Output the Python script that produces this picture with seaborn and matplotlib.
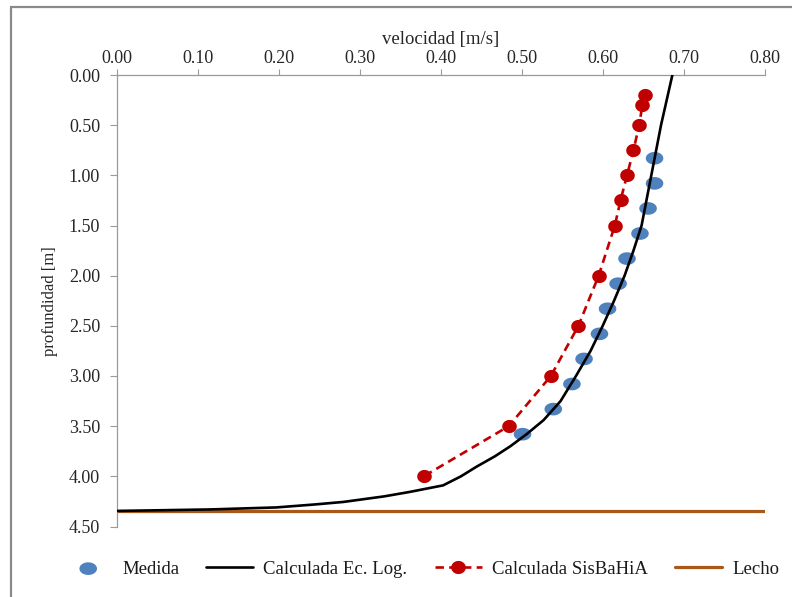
import numpy as np
import matplotlib
matplotlib.use("Agg")
import matplotlib.pyplot as plt
from matplotlib.path import Path
from matplotlib.patches import Rectangle
from matplotlib.ticker import FormatStrFormatter
import seaborn as sns

# Measured velocity profile
medida_depth = [0.83, 1.08, 1.33, 1.58, 1.83, 2.08, 2.33, 2.58, 2.83, 3.08, 3.33, 3.58]
medida_vel = [0.664, 0.664, 0.656, 0.646, 0.630, 0.619, 0.606, 0.596, 0.577, 0.562, 0.539, 0.501]

# Logarithmic-law profile
log_depth = [0.00, 0.50, 1.00, 1.50, 1.75, 2.00, 2.25, 2.50, 2.75, 3.00, 3.25, 3.44,
             3.58, 3.70, 3.80, 3.905, 4.00, 4.09, 4.155, 4.20, 4.255, 4.28, 4.31, 4.33, 4.345]
log_vel = [0.686, 0.672, 0.660, 0.648, 0.638, 0.627, 0.614, 0.600, 0.585, 0.567, 0.548, 0.527,
           0.506, 0.486, 0.467, 0.444, 0.425, 0.403, 0.362, 0.330, 0.280, 0.245, 0.197, 0.115, 0.000]

# SisBaHiA model profile
sisbahia_depth = [0.20, 0.30, 0.50, 0.75, 1.00, 1.25, 1.50, 2.00, 2.50, 3.00, 3.50, 4.00]
sisbahia_vel = [0.652, 0.649, 0.645, 0.638, 0.630, 0.622, 0.615, 0.595, 0.570, 0.536, 0.484, 0.379]

# Bed level
lecho_depth = 4.35

x_ticks = [0.00, 0.10, 0.20, 0.30, 0.40, 0.50, 0.60, 0.70, 0.80]
y_ticks = [0.00, 0.50, 1.00, 1.50, 2.00, 2.50, 3.00, 3.50, 4.00, 4.50]

sns.set_theme(style="white")
plt.rcParams["font.family"] = ["Liberation Serif", "DejaVu Serif"]
plt.rcParams["text.color"] = "#1a1a1a"

W, H = 792, 597
fig = plt.figure(figsize=(W / 100, H / 100), dpi=100)
ax = fig.add_axes([116.7 / W, 1 - 526.5 / H, (764.7 - 116.7) / W, (526.5 - 75) / H])


def ellipse_marker(ratio):
    t = np.linspace(0, 2 * np.pi, 64)
    return Path(np.column_stack([np.cos(t), ratio * np.sin(t)]), closed=True)


blue = "#4F81BD"
red = "#C00000"
brown = "#A9581C"

ax.axhline(lecho_depth, color=brown, lw=2.3, label="Lecho", zorder=1)

sns.lineplot(x=log_vel, y=log_depth, sort=False, estimator=None, color="black",
             lw=1.9, ax=ax, label="Calculada Ec. Log.", zorder=3)

sns.scatterplot(x=medida_vel, y=medida_depth, marker=ellipse_marker(0.72), s=160,
                color=blue, edgecolor="none", ax=ax, label="Medida", zorder=2)

sns.lineplot(x=sisbahia_vel, y=sisbahia_depth, sort=False, estimator=None, color=red,
             lw=1.9, marker=ellipse_marker(0.9), markersize=10.5, markeredgewidth=0,
             markerfacecolor=red, ax=ax, label="Calculada SisBaHiA", zorder=4)
ax.lines[-1].set_dashes([3.2, 2.0])

ax.set_xlim(0, 0.80)
ax.set_ylim(4.50, 0.00)
ax.set_xticks(x_ticks)
ax.set_yticks(y_ticks)
ax.xaxis.set_major_formatter(FormatStrFormatter("%.2f"))
ax.yaxis.set_major_formatter(FormatStrFormatter("%.2f"))
ax.xaxis.tick_top()
ax.xaxis.set_label_position("top")

for side in ["right", "bottom"]:
    ax.spines[side].set_visible(False)
for side in ["top", "left"]:
    ax.spines[side].set_color("#9a9a9a")
    ax.spines[side].set_linewidth(0.9)

ax.tick_params(axis="x", which="major", top=True, bottom=False, direction="out",
               length=4, width=0.8, color="#9a9a9a", pad=2, labelsize=13)
ax.tick_params(axis="y", which="major", left=True, direction="out",
               length=5, width=0.8, color="#9a9a9a", pad=7, labelsize=13)

ax.set_xlabel("velocidad [m/s]", fontsize=13.5, labelpad=4)
ax.set_ylabel("profundidad [m]", fontsize=12, labelpad=8)

handles, labels = ax.get_legend_handles_labels()
order = ["Medida", "Calculada Ec. Log.", "Calculada SisBaHiA", "Lecho"]
hmap = dict(zip(labels, handles))
if ax.get_legend() is not None:
    ax.get_legend().remove()
fig.legend([hmap[k] for k in order], order, loc="center",
           bbox_to_anchor=(422 / W, 1 - 569 / H), ncol=4, frameon=False,
           fontsize=13.5, handlelength=2.5, handletextpad=0.55,
           columnspacing=1.45, numpoints=1, scatterpoints=1)

# Chart area border
fig.patches.append(Rectangle((11 / W, -0.05), 1.2, 1 - 7 / H + 0.05,
                             transform=fig.transFigure, fill=False,
                             edgecolor="#8a8a8a", lw=1.6, zorder=0))

fig.savefig("out.png", dpi=100)
